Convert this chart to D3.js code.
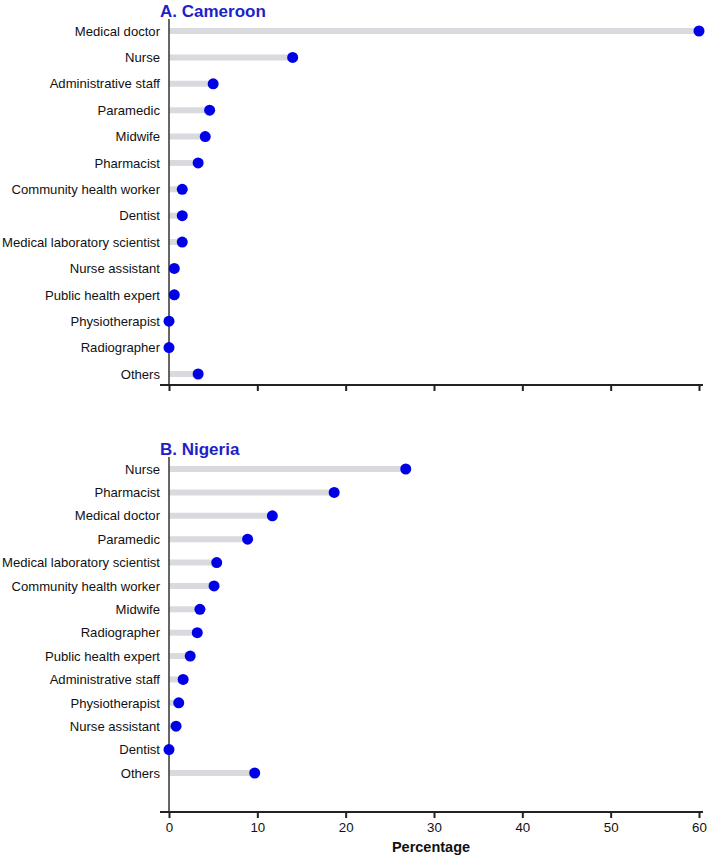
<!DOCTYPE html>
<meta charset="utf-8">
<script src="https://d3js.org/d3.v7.min.js"></script>
<style>
  body { margin: 0; background: #fff; }
  svg { font-family: "Liberation Sans", Arial, sans-serif; }
</style>
<div id="my_dataviz"></div>
<script>
// Cameroon
var cmCategories = ["Medical doctor", "Nurse", "Administrative staff", "Paramedic", "Midwife",
  "Pharmacist", "Community health worker", "Dentist", "Medical laboratory scientist",
  "Nurse assistant", "Public health expert", "Physiotherapist", "Radiographer", "Others"];
var cmValues = [60, 14.0, 5.0, 4.6, 4.1, 3.3, 1.5, 1.5, 1.5, 0.6, 0.6, 0, 0, 3.3];

// Nigeria
var ngCategories = ["Nurse", "Pharmacist", "Medical doctor", "Paramedic", "Medical laboratory scientist",
  "Community health worker", "Midwife", "Radiographer", "Public health expert", "Administrative staff",
  "Physiotherapist", "Nurse assistant", "Dentist", "Others"];
var ngValues = [26.8, 18.7, 11.7, 8.9, 5.4, 5.1, 3.5, 3.2, 2.4, 1.6, 1.1, 0.8, 0, 9.7];

var xTicks = [0, 10, 20, 30, 40, 50, 60];

var width = 708, height = 858;
var svg = d3.select("#my_dataviz")
  .append("svg")
    .attr("width", width)
    .attr("height", height);

var x = d3.scaleLinear().domain([0, 60]).range([169, 699]);

function panel(title, cats, vals, top, bottom, axisY, showLabels) {
  var y = d3.scalePoint().domain(cats).range([top, bottom]);
  var g = svg.append("g");

  // title
  g.append("text")
    .attr("x", 160)
    .attr("y", top - 14)
    .attr("fill", "#1f1fc8")
    .attr("font-weight", "bold")
    .attr("font-size", 17)
    .text(title);

  // bars
  g.selectAll(".stem")
    .data(cats)
    .enter().append("line")
      .attr("x1", x(0))
      .attr("x2", (d, i) => x(vals[i]))
      .attr("y1", d => y(d))
      .attr("y2", d => y(d))
      .attr("stroke", "#d8dade")
      .attr("stroke-width", 6);

  // y axis
  var yAxis = g.append("g")
    .attr("transform", "translate(" + x(0) + ",0)")
    .call(d3.axisLeft(y).tickSize(0).tickPadding(9));
  yAxis.select(".domain").remove();
  yAxis.selectAll("text").attr("font-size", 13.1).attr("fill", "#111");
  g.append("line")
    .attr("x1", x(0)).attr("x2", x(0))
    .attr("y1", top - 12).attr("y2", axisY)
    .attr("stroke", "#333").attr("stroke-width", 1.5);

  // dots
  g.selectAll(".dot")
    .data(cats)
    .enter().append("circle")
      .attr("cx", (d, i) => x(vals[i]))
      .attr("cy", d => y(d))
      .attr("r", 5.5)
      .attr("fill", "#0000e6");

  // x axis
  var xAxis = g.append("g")
    .attr("transform", "translate(0," + axisY + ")")
    .call(d3.axisBottom(x).tickValues(xTicks).tickSize(6).tickSizeOuter(0).tickPadding(5)
      .tickFormat(showLabels ? d3.format("d") : ""));
  xAxis.select(".domain").attr("d", "M160,0H703").attr("stroke", "#222").attr("stroke-width", 2);
  xAxis.selectAll(".tick line").attr("stroke", "#222").attr("stroke-width", 2);
  xAxis.selectAll("text").attr("font-size", 13.3).attr("fill", "#111");
}

panel("A. Cameroon", cmCategories, cmValues, 31, 374, 385, false);
panel("B. Nigeria", ngCategories, ngValues, 469, 773, 812, true);

svg.append("text")
  .attr("x", x(30) - 3)
  .attr("y", 852)
  .attr("text-anchor", "middle")
  .attr("font-weight", "bold")
  .attr("font-size", 14.5)
  .attr("fill", "#111")
  .text("Percentage");
</script>
